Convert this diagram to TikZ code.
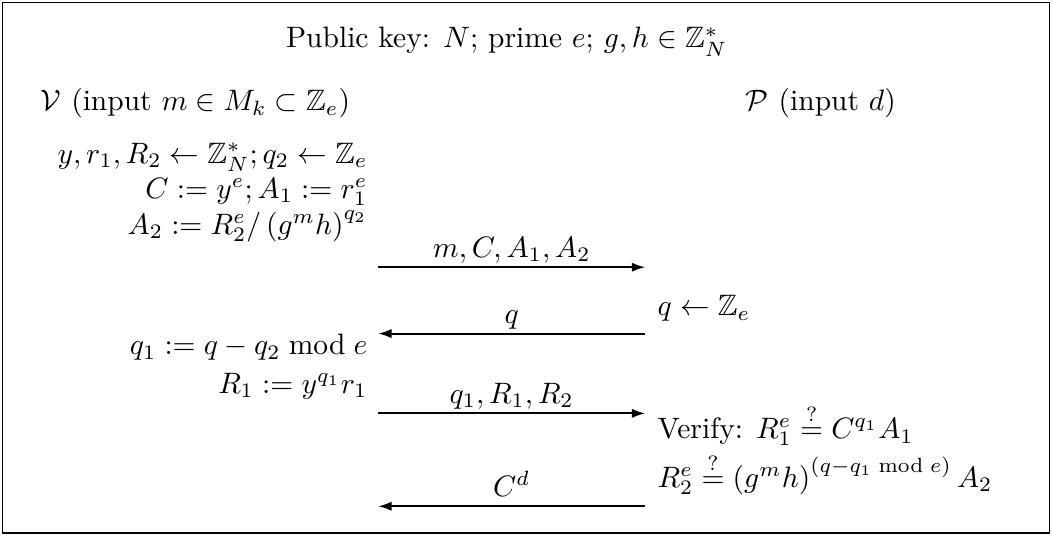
\documentclass[tikz,border=0pt]{standalone}
\usepackage{amsmath, amssymb}
\usepackage{tikz}
\usetikzlibrary{arrows.meta, positioning}

\tikzset{
  msg/.style={-{Latex[length=1.6mm,width=1.1mm]}, line width=0.7pt},
  vstep/.style={anchor=base east, inner sep=0pt},
  pstep/.style={anchor=base west, inner sep=0pt},
  msglabel/.style={midway, anchor=base, yshift=3.4pt, inner sep=0pt}
}

\begin{document}
\begin{tikzpicture}
    \useasboundingbox (0,0) rectangle (12.52,6.37);
    % Frame
    \draw[line width=0.6pt] (0.03,0.03) rectangle (12.49,6.34);

    % Public parameters
    \node[anchor=base, inner sep=0pt] (pubkey) at (6.03,5.80) {Public key: $N$; prime $e$; $g,h\in\mathbb{Z}_N^*$};

    % Parties
    \node[pstep] (verifier) at (0.48,5.05) {$\mathcal{V}$ (input $m\in M_k\subset\mathbb{Z}_e$)};
    \node[pstep] (prover) at (8.87,5.05) {$\mathcal{P}$ (input $d$)};

    % Verifier, first round
    \node[vstep] (vsample) at (4.38,4.43) {$y,r_1,R_2\leftarrow\mathbb{Z}_N^*;q_2\leftarrow\mathbb{Z}_e$};
    \node[vstep] (vcommit) at (4.38,4.01) {$C:=y^e;A_1:=r_1^e$};
    \node[vstep] (vatwo) at (4.38,3.58) {$A_2:=R_2^e/\left(g^mh\right)^{q_2}$};

    % Message 1
    \coordinate (m1a) at (4.50,3.19);
    \coordinate (m1b) at (7.68,3.19);
    \draw[msg] (m1a) -- (m1b) node[msglabel] {$m,C,A_1,A_2$};

    % Challenge
    \node[pstep] (pchal) at (7.82,2.61) {$q\leftarrow\mathbb{Z}_e$};
    \coordinate (m2a) at (7.68,2.40);
    \coordinate (m2b) at (4.50,2.40);
    \draw[msg] (m2a) -- (m2b) node[msglabel] {$q$};

    % Verifier, second round
    \node[vstep] (vqone) at (4.38,2.15) {$q_1:=q-q_2\bmod e$};
    \node[vstep] (vrone) at (4.38,1.69) {$R_1:=y^{q_1}r_1$};

    % Message 3
    \coordinate (m3a) at (4.50,1.45);
    \coordinate (m3b) at (7.68,1.45);
    \draw[msg] (m3a) -- (m3b) node[msglabel] {$q_1,R_1,R_2$};

    % Prover checks
    \node[pstep] (pverify) at (7.82,1.15) {Verify: $R_1^e\stackrel{?}{=}C^{q_1}A_1$};
    \node[pstep] (pcheck) at (7.82,0.57) {$R_2^e\stackrel{?}{=}\left(g^mh\right)^{(q-q_1\bmod e)}A_2$};

    % Message 4
    \coordinate (m4a) at (7.68,0.345);
    \coordinate (m4b) at (4.50,0.345);
    \draw[msg] (m4a) -- (m4b) node[msglabel] {$C^d$};
\end{tikzpicture}
\end{document}
